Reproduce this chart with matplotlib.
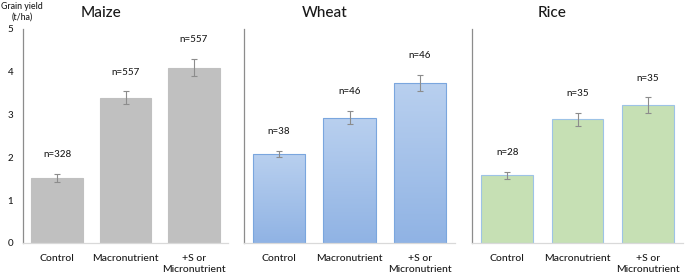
import matplotlib
matplotlib.use("Agg")
import matplotlib.pyplot as plt
import numpy as np
from matplotlib.colors import LinearSegmentedColormap

plt.rcParams['font.family'] = ['Lato', 'DejaVu Sans']

categories = ["Control", "Macronutrient", "+S or\nMicronutrient"]
crops = ["Maize", "Wheat", "Rice"]
maize_vals = [1.52, 3.39, 4.10]
maize_err = [0.09, 0.15, 0.20]
maize_n = ["n=328", "n=557", "n=557"]
wheat_vals = [2.08, 2.93, 3.74]
wheat_err = [0.08, 0.15, 0.18]
wheat_n = ["n=38", "n=46", "n=46"]
rice_vals = [1.58, 2.89, 3.22]
rice_err = [0.08, 0.15, 0.18]
rice_n = ["n=28", "n=35", "n=35"]
yticks = [0, 1, 2, 3, 4, 5]

fig = plt.figure(figsize=(6.85, 2.76), dpi=100)
fig.patch.set_facecolor("white")

bottom = 33 / 276
height = (243 - 29) / 276
axes_specs = [
    (23 / 685, 205 / 685),
    (244 / 685, 211 / 685),
    (472 / 685, 211 / 685),
]
vals_all = [maize_vals, wheat_vals, rice_vals]
errs_all = [maize_err, wheat_err, rice_err]
ns_all = [maize_n, wheat_n, rice_n]
face = ["#c0c0c0", "#a9c4ea", "#c6e0b4"]
edge = ["#c0c0c0", "#7aa6de", "#9dc3e6"]
widths = [0.76, 0.74, 0.73]

# top colour -> bottom colour
wheat_cmap = LinearSegmentedColormap.from_list("w", ["#b9d0ef", "#90b3e4"])

tc = "#1a1a1a"
fw = "medium"
x = np.arange(len(categories))
for i, crop in enumerate(crops):
    left, w = axes_specs[i]
    ax = fig.add_axes([left, bottom, w, height])
    vals = vals_all[i]
    errs = errs_all[i]
    bars = ax.bar(x, vals, width=widths[i], color=face[i], edgecolor=edge[i],
                  linewidth=0.8, zorder=2)
    if crop == "Wheat":
        for b in bars:
            b.set_facecolor("none")
            x0, y0 = b.get_x(), b.get_y()
            bw, bh = b.get_width(), b.get_height()
            grad = np.linspace(0, 1, 100).reshape(-1, 1)
            # row 0 drawn at top with origin="upper"
            im = ax.imshow(grad, extent=[x0, x0 + bw, y0, y0 + bh], cmap=wheat_cmap,
                           aspect="auto", zorder=1.5, origin="upper")
            im.set_clip_path(b)
    ax.errorbar(x, vals, yerr=errs, fmt="none", ecolor="#8c8c8c", elinewidth=0.8,
                capsize=2.5, capthick=0.8, zorder=3)
    for xi, v, e, t in zip(x, vals, errs, ns_all[i]):
        ax.annotate(t, (xi, v + e), xytext=(0, 14), textcoords="offset points",
                    ha="center", va="center", fontsize=7, color=tc, fontweight=fw)
    ax.set_xlim(-0.5, 2.5)
    ax.set_ylim(0, 5)
    ax.set_xticks(x)
    ax.set_xticklabels(categories, fontsize=7.5, color=tc, linespacing=1.3,
                       fontweight=fw)
    ax.tick_params(axis="x", length=0, pad=8)
    for s in ["top", "right"]:
        ax.spines[s].set_visible(False)
    ax.spines["left"].set_color("#8c8c8c")
    ax.spines["left"].set_linewidth(0.9)
    ax.spines["bottom"].set_color("#d9d9d9")
    ax.spines["bottom"].set_linewidth(0.9)
    if i == 0:
        ax.set_yticks(yticks)
        ax.set_yticklabels([str(t) for t in yticks], fontsize=7, color=tc,
                           fontweight=fw)
        ax.tick_params(axis="y", length=0, pad=7)
    else:
        ax.set_yticks([])
    ax.text(0.38, 1.075, crop, transform=ax.transAxes, ha="center", va="center",
            fontsize=11, color=tc, fontweight=fw)

fig.text(1 / 685, 1 - 12 / 276, "Grain yield\n(t/ha)", ha="left", va="center",
         fontsize=6.3, color=tc, linespacing=1.4, multialignment="center",
         fontweight=fw)

fig.savefig("out.png", dpi=100)
